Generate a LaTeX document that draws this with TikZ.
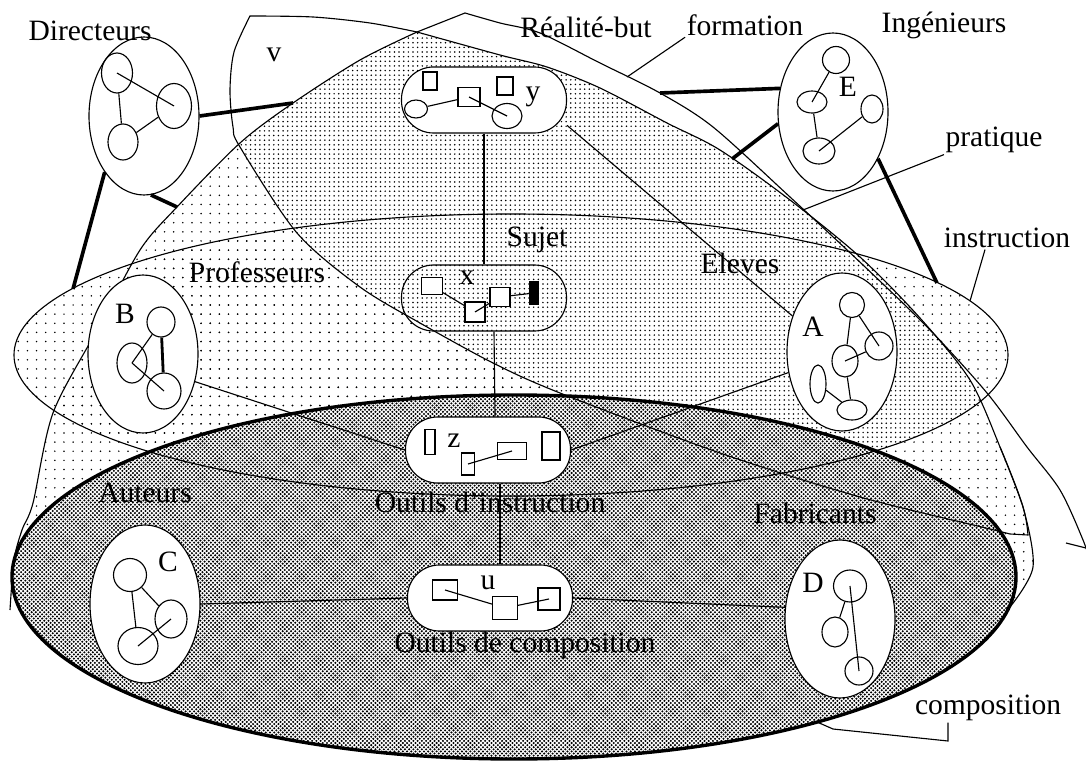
\documentclass[tikz,border=0pt]{standalone}
\usepackage{fontspec}
\setmainfont{Liberation Serif}
\usepackage{tikz}
\usetikzlibrary{
  shapes.geometric,
  patterns
}
\newcommand{\pu}{0.025cm}
\pgfdeclarepatternformonly{sparsedots}{\pgfqpoint{-1pt}{-1pt}}{\pgfqpoint{1pt}{1pt}}{\pgfqpoint{6.5pt}{6.5pt}}{%
  \pgfpathcircle{\pgfpointorigin}{0.6pt}\pgfusepath{fill}}
\pgfdeclarepatternformonly{densedots}{\pgfqpoint{-1pt}{-1pt}}{\pgfqpoint{1pt}{1pt}}{\pgfqpoint{3.3pt}{3.3pt}}{%
  \pgfpathcircle{\pgfpointorigin}{0.6pt}\pgfusepath{fill}}
\pgfdeclarepatternformonly{greydots}{\pgfqpoint{-1pt}{-1pt}}{\pgfqpoint{2.5pt}{2.5pt}}{\pgfqpoint{3pt}{3pt}}{%
  \pgfpathcircle{\pgfpointorigin}{0.82pt}\pgfpathcircle{\pgfqpoint{1.5pt}{1.5pt}}{0.82pt}\pgfusepath{fill}}
\tikzset{
  team/.style={
    ellipse,
    draw,
    fill=white,
    line width=0.8pt,
    minimum width=110*\pu,
    minimum height=158*\pu,
    inner sep=0pt
  },
  ring/.style 2 args={ellipse, draw, line width=0.8pt, minimum width=#1*\pu, minimum height=#2*\pu, inner sep=0pt},
  group/.style={draw, line width=0.8pt, rounded corners=0.8cm, minimum width=165*\pu, minimum height=66*\pu},
  piece/.style 2 args={draw, fill=white, line width=0.8pt, minimum width=#1*\pu, minimum height=#2*\pu, inner sep=0pt},
  tag/.style={font=\fontsize{21}{25}\selectfont, inner sep=1pt},
  region/.style={line width=0.8pt},
  heavy/.style={line width=2.6pt},
  link/.style={line width=0.8pt}
}

\begin{document}
\begin{tikzpicture}[x=\pu, y=-\pu]
  \useasboundingbox (0,0) rectangle (1086,762);

  \path[save path=\regP] plot[smooth] coordinates {(10,610) (14,560) (22,530) (33,503) (53,413) (97,330) (140,250) (177,207) (240,143) (293,103) (360,60) (417,32)}
    -- plot[smooth] coordinates {(417,32) (500,55) (547,67) (600,88) (667,123) (720,150) (790,200) (860,257) (920,318) (970,380) (1000,447) (1023,507) (1033,567) (1010,607)}
    -- (514,700) -- cycle;
  \path[save path=\regV] plot[smooth] coordinates {(250,16) (313,17) (370,23) (417,32)}
    -- plot[smooth] coordinates {(417,32) (500,55) (547,67) (600,88) (667,123) (720,150) (790,200) (860,257) (920,318) (970,380) (1000,447) (1023,507) (1028,535)}
    -- plot[smooth] coordinates {(1010,534) (990,529) (860,497) (720,453) (560,393) (493,363) (420,323) (360,287) (297,233) (240,147) (233,127) (230,90) (234,52) (250,16)}
    -- cycle;

  \path[use path=\regP, pattern=sparsedots];
  \path[pattern=sparsedots] (511,355) ellipse [x radius=497, y radius=141];
  \begin{scope}
    \clip[use path=\regV];
    \clip[use path=\regP];
    \clip (0,0) -- (1086,0) -- (1086,355) -- (1008,355) arc[start angle=0, end angle=180, x radius=497, y radius=141] -- cycle;
    \fill[white] (0,0) rectangle (1086,762);
    \path[pattern=densedots] (0,0) rectangle (1086,762);
  \end{scope}
  \path[fill=white] (514,577) ellipse [x radius=502, y radius=182];
  \path[pattern=greydots] (514,577) ellipse [x radius=502, y radius=182];

  \draw[region, use path=\regV];
  \draw[region] plot[smooth] coordinates {(10,610) (14,560) (22,530) (33,503) (53,413) (97,330) (140,250) (177,207) (240,143) (293,103) (360,60) (417,32)};
  \draw[region] (417,32) -- plot[smooth] coordinates {(465,13) (500,23) (540,33) (600,63) (660,93) (713,127) (790,197) (863,265) (930,330) (987,393) (1027,447) (1060,490) (1083,540) (1095,575)};
  \draw[region] (1066,543) -- (1090,549);
  \draw[region] plot[smooth] coordinates {(1000,447) (1023,507) (1033,567) (1010,607)};
  \draw[region] (511,355) ellipse [x radius=497, y radius=141];
  \draw[line width=2.4pt] (514,577) ellipse [x radius=502, y radius=182];

  \node[team] (grpDir) at (144,116) {};
  \node[team] (grpE) at (833,112) {};
  \node[team] (grpB) at (143,354) {};
  \node[team] (grpA) at (842,352) {};
  \node[team] (grpC) at (145,604) {};
  \node[team] (grpD) at (840,619) {};

  \node[ring={31}{40}] (d1) at (117,73) {};
  \node[ring={35}{45}] (d2) at (174,106) {};
  \node[ring={30}{36}] (d3) at (123,142) {};
  \draw[link] (d1.center) -- (d2.center) (d1) -- (d3) (d2) -- (d3);

  \node[ring={27}{27}] (e1) at (836,60) {};
  \node[ring={30}{22}] (e2) at (812,102) {};
  \node[ring={22}{28}] (e3) at (872,109) {};
  \node[ring={32}{26}] (e4) at (819,151) {};
  \draw[link] (e1) -- (e2.center) (e2) -- (e4) (e4.center) -- (e3);

  \node[ring={28}{30}] (b1) at (161,322) {};
  \node[ring={30}{40}] (b2) at (132,363) {};
  \node[ring={34}{36}] (b3) at (164,391) {};
  \draw[link] (b1) -- (b2.center) (b2.center) -- (b3.center);
  \draw[line width=2pt] (b1) -- (b3);

  \node[ring={25}{25}] (a1) at (852,305) {};
  \node[ring={28}{28}] (a2) at (879,346) {};
  \node[ring={26}{32}] (a3) at (845,361) {};
  \node[ring={16}{38}] (a4) at (818,384) {};
  \node[ring={30}{20}] (a5) at (852,410) {};
  \draw[link] (a1) -- (a3) (a1) -- (a2.center) (a3.center) -- (a2) (a3) -- (a5) (a4) -- (a5);

  \node[ring={33}{33}] (c1) at (130,575) {};
  \node[ring={32}{38}] (c2) at (171,619) {};
  \node[ring={40}{37}] (c3) at (138,646) {};
  \draw[link] (c1) -- (c3) (c1) -- (c2) (c2.center) -- (c3.center);

  \node[ring={33}{32}] (dd1) at (850,586) {};
  \node[ring={26}{30}] (dd2) at (835,632) {};
  \node[ring={28}{28}] (dd3) at (859,671) {};
  \draw[link] (dd1) -- (dd2) (dd1.center) -- (dd3.center);

  \node[group, fill=white] (ybox) at (484,100) {};
  \node[piece={14}{18}] (yr1) at (430,81) {};
  \node[piece={16}{18}] (yr2) at (505,86) {};
  \node[piece={22}{19}] (yr3) at (469,97) {};
  \node[ring={23}{18}] (yo1) at (416,109) {};
  \node[ring={30}{25}] (yo2) at (507,116) {};
  \draw[link] (yo1) -- (yr3) (yr3.center) -- (yo2.center);

  \node[group] (xbox) at (484,298) {};
  \node[piece={21}{17}] (xs1) at (432,286) {};
  \node[piece={20}{20}] (xs2) at (475,312) {};
  \node[piece={20}{19}] (xs3) at (500,297) {};
  \node[piece={8}{23}, fill=black] (xbar) at (534,293) {};
  \draw[link] (xs1) -- (xs2) (xs2.center) -- (xs3) (xs3) -- (xbar);

  \node[group, fill=white] (zbox) at (488,450) {};
  \node[piece={10}{25}] (zq1) at (430,442) {};
  \node[piece={13}{22}] (zq2) at (468,464) {};
  \node[piece={29}{17}] (zq3) at (512,451) {};
  \node[piece={18}{28}] (zq4) at (551,446) {};
  \draw[link] (zq2.center) -- (zq3.center);

  \node[group, fill=white] (ubox) at (490,598) {};
  \node[piece={25}{20}] (up1) at (445,590) {};
  \node[piece={25}{23}] (up2) at (505,608) {};
  \node[piece={22}{22}] (up3) at (549,599) {};
  \draw[link] (up1.center) -- (up2) (up2) -- (up3.center);

  \draw[line width=1.6pt] (ybox) -- (xbox);
  \draw[link] ([xshift=10*\pu]xbox.south) -- ([xshift=7*\pu]zbox.north);
  \draw[link] ([xshift=12*\pu]zbox.south) -- ([xshift=10*\pu]ubox.north);
  \draw[link] (ybox.-17) -- (grpA.144);
  \draw[link] (grpB.-28) -- (zbox.west);
  \draw[link] (grpA.-159) -- (zbox.east);
  \draw[link] (grpC.east) -- (ubox.west);
  \draw[link] (ubox.east) -- (grpD.168);

  \coordinate (fb1) at (293,103);
  \coordinate (fb2) at (177,207);
  \coordinate (fi1) at (73,289);
  \coordinate (fc1) at (660,93);
  \coordinate (fd1) at (732,159);
  \coordinate (fi2) at (937,283);
  \draw[heavy] (grpDir.east) -- (fb1);
  \draw[heavy] (grpDir.-85) -- (fb2);
  \draw[heavy] (grpDir.-125) -- (fi1);
  \draw[heavy] (grpE.156) -- (fc1);
  \draw[heavy] (grpE.-168) -- (fd1);
  \draw[heavy] (grpE.-46) -- (fi2);

  \node[tag] (lformation) at (745,25) {formation};
  \node[tag] (lpratique) at (994,140) {pratique};
  \node[tag] (linstruction) at (1007,238) {instruction};
  \node[tag] (lcomposition) at (988,708) {composition};
  \coordinate (ff) at (627,77);
  \coordinate (fp) at (803,210);
  \coordinate (fi3) at (970,301);
  \coordinate (cc1) at (948,741);
  \coordinate (cc2) at (833,729);
  \coordinate (cc3) at (817,722);
  \draw[link] (lformation.south west) -- (ff);
  \draw[link] (lpratique.south west) -- (fp);
  \draw[link] ([xshift=-22*\pu]linstruction.south) -- (fi3);
  \draw[link] (cc1 |- lcomposition.south) -- (cc1) -- (cc2) -- (cc3);

  \node[tag] (lDir) at (90,31) {Directeurs};
  \node[tag] (lv) at (274,55) {v};
  \node[tag] (lbut) at (586,27) {Réalité-but};
  \node[tag] (lIng) at (944,25) {Ingénieurs};
  \node[tag] (lProf) at (257,272) {Professeurs};
  \node[tag] (lSujet) at (537,240) {Sujet};
  \node[tag] (lEleves) at (740,263) {Eleves};
  \node[tag] (lAut) at (145,493) {Auteurs};
  \node[tag] (lOI) at (490,502) {Outils d'instruction};
  \node[tag] (lFab) at (815,513) {Fabricants};
  \node[tag] (lOC) at (525,645) {Outils de composition};

  \node[tag] (tE) at (848,87) {E};
  \node[tag] (tB) at (125,314) {B};
  \node[tag] (tA) at (813,327) {A};
  \node[tag] (tC) at (168,562) {C};
  \node[tag] (tD) at (813,583) {D};
  \node[tag] (ty) at (533,97) {y};
  \node[tag] (tx) at (467,278) {x};
  \node[tag] (tz) at (454,441) {z};
  \node[tag] (tu) at (488,583) {u};
\end{tikzpicture}
\end{document}
